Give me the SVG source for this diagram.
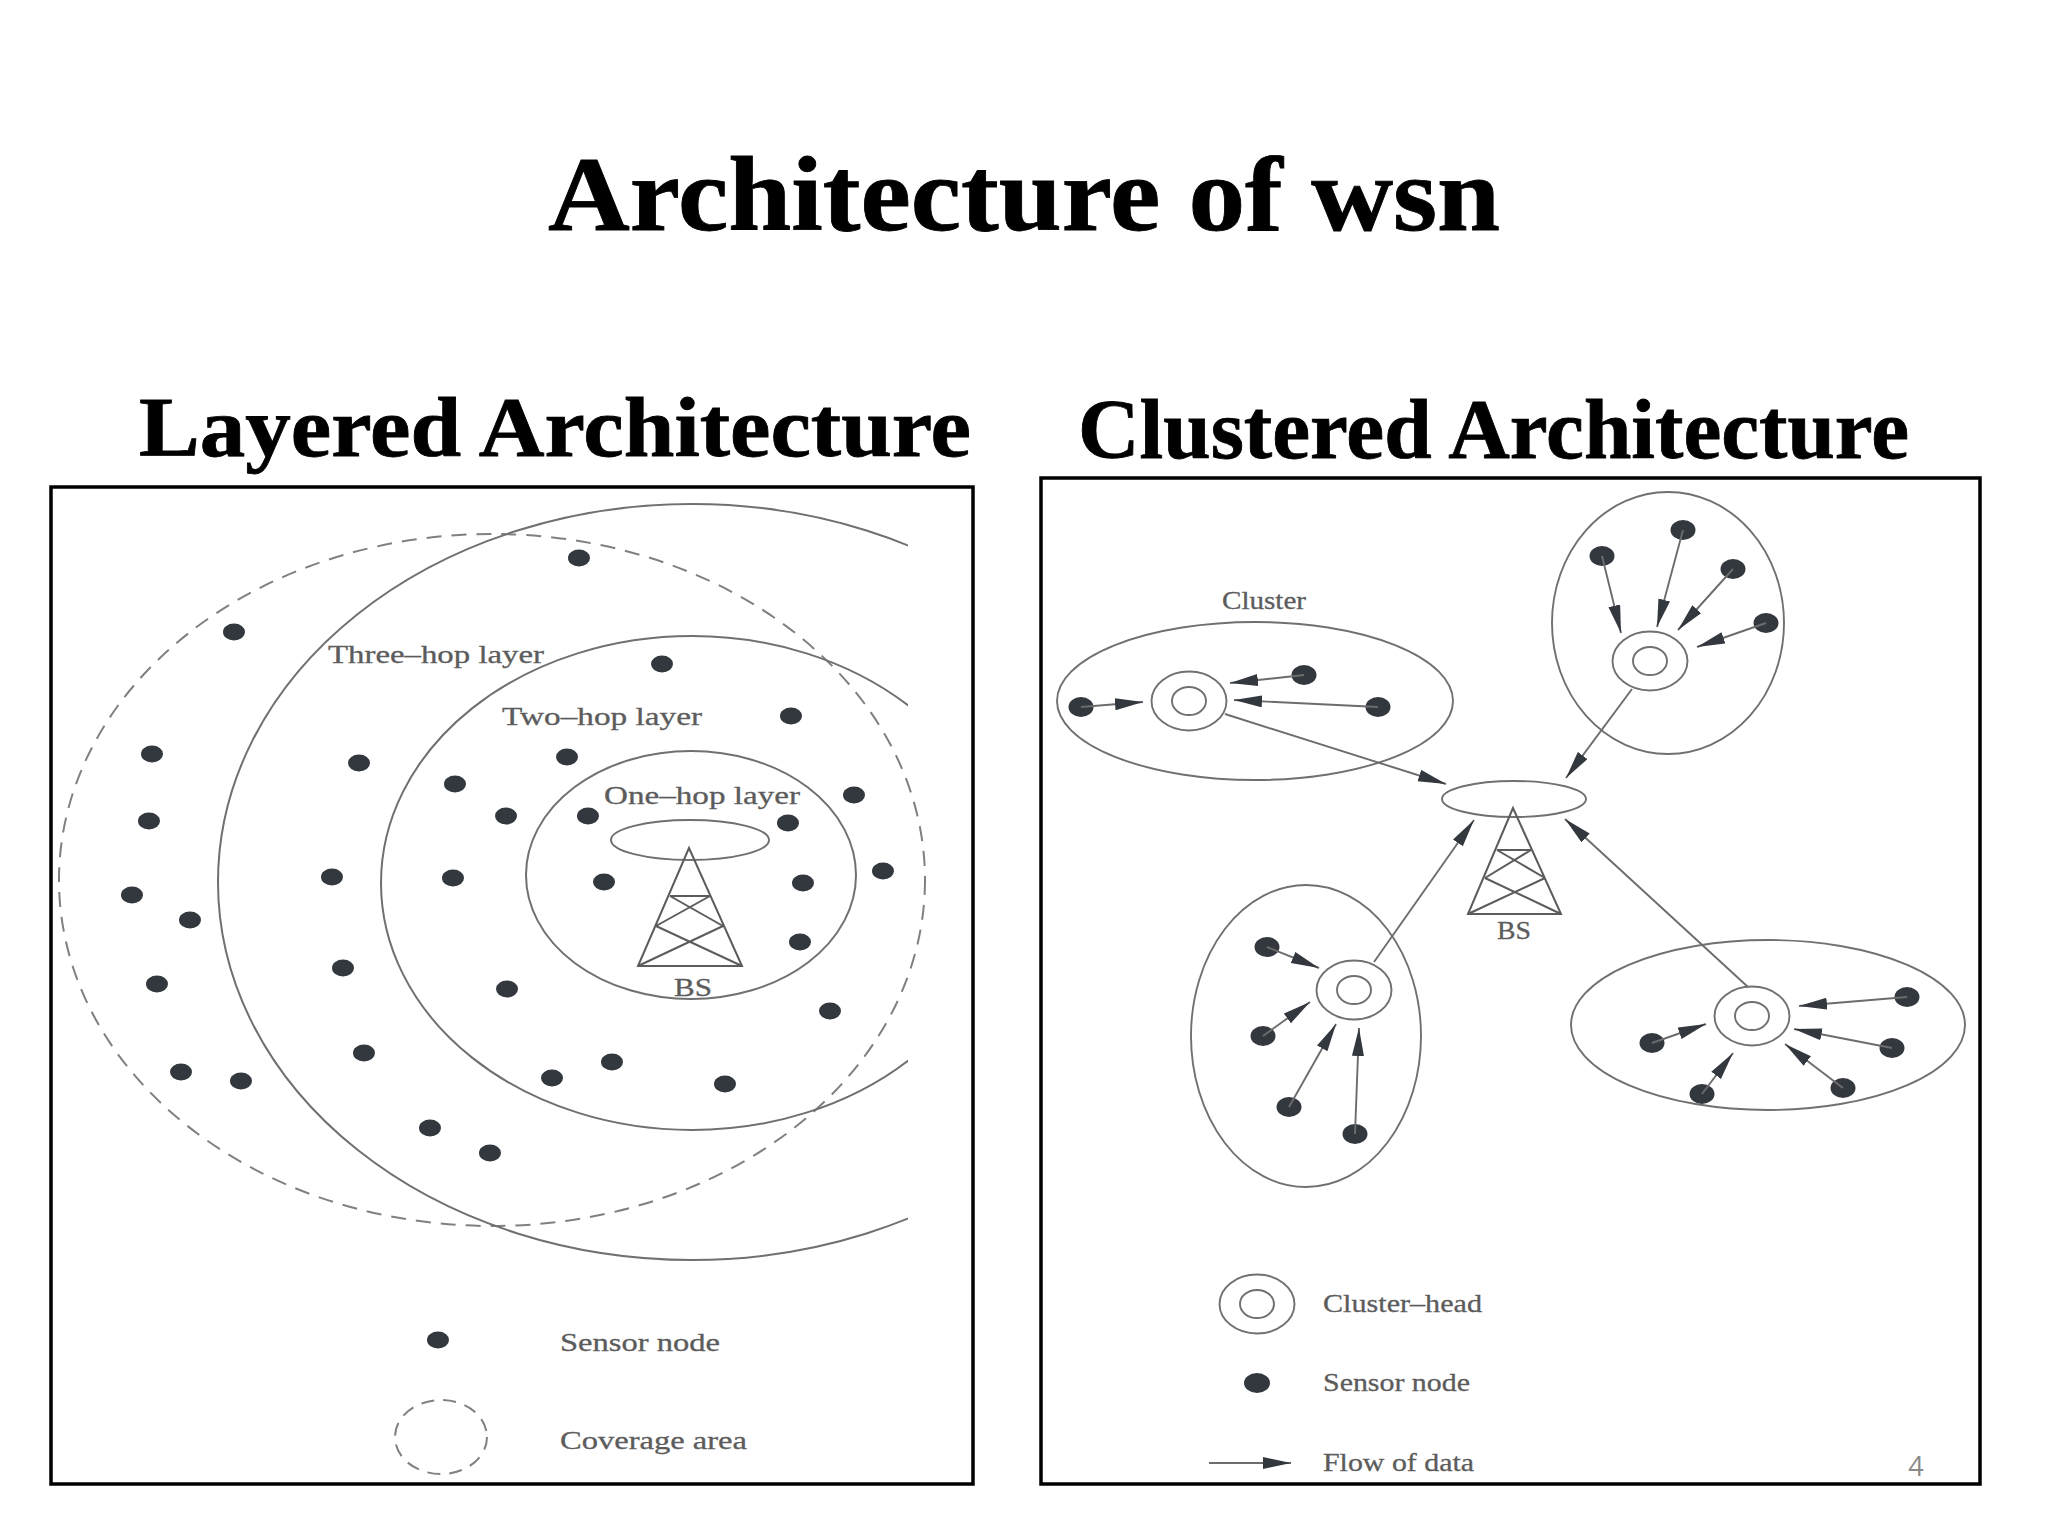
<svg xmlns="http://www.w3.org/2000/svg" width="2048" height="1536" viewBox="0 0 2048 1536">
<style>
.title{font-family:"Liberation Serif","Times New Roman",serif;font-weight:bold;fill:#000;stroke:#000;stroke-width:.8}
.lbl{font-family:"Liberation Serif","Times New Roman",serif;font-size:25px;fill:#5c5c5c;stroke:#5c5c5c;stroke-width:.3}
.frame{fill:none;stroke:#000;stroke-width:3.5}
.ring{fill:none;stroke:#707070;stroke-width:2}
.dash{fill:none;stroke:#808080;stroke-width:2;stroke-dasharray:15 10}
.thin{fill:none;stroke:#707070;stroke-width:1.9}
.dot{fill:#33373e}
.tower{fill:none;stroke:#5c5c5c;stroke-width:2}
.flow{fill:none;stroke:#6c6c6c;stroke-width:1.9;marker-end:url(#ah)}
</style>
<defs>
<marker id="ah" markerUnits="userSpaceOnUse" markerWidth="30" markerHeight="14" refX="28" refY="6" orient="auto"><path d="M0 0L28 6L0 12Z" fill="#33373e"/></marker>
<clipPath id="cl"><rect x="40" y="470" width="868" height="1020"/></clipPath>
<g id="hd"><ellipse rx="37.5" ry="29.5" class="thin"/><ellipse rx="17" ry="14" class="thin"/></g>
</defs>
<rect width="2048" height="1536" fill="#fff"/>
<text class="title" x="548" y="230" font-size="105" textLength="952" lengthAdjust="spacingAndGlyphs">Architecture of wsn</text>
<text class="title" x="139" y="456" font-size="84" textLength="832" lengthAdjust="spacingAndGlyphs">Layered Architecture</text>
<text class="title" x="1078" y="458" font-size="84" textLength="831" lengthAdjust="spacingAndGlyphs">Clustered Architecture</text>

<g id="layered-frame"><rect class="frame" x="51" y="487" width="922" height="997"/></g>
<g id="clustered-frame"><rect class="frame" x="1041" y="478" width="939" height="1006"/></g>

<g id="coverage-area"><ellipse class="dash" cx="492" cy="880" rx="433" ry="346"/></g>
<g id="three-hop-layer"><ellipse class="ring" cx="692" cy="882" rx="474" ry="378" clip-path="url(#cl)"/><text class="lbl" x="328" y="663" textLength="216" lengthAdjust="spacingAndGlyphs">Three–hop layer</text></g>
<g id="two-hop-layer"><ellipse class="ring" cx="692" cy="883" rx="311" ry="247" clip-path="url(#cl)"/><text class="lbl" x="502" y="725" textLength="200" lengthAdjust="spacingAndGlyphs">Two–hop layer</text></g>
<g id="one-hop-layer"><ellipse class="ring" cx="691" cy="875" rx="165" ry="124"/><text class="lbl" x="604" y="804" textLength="196" lengthAdjust="spacingAndGlyphs">One–hop layer</text></g>
<g id="layered-bs"><ellipse class="ring" cx="690" cy="840" rx="79" ry="20"/><path class="tower" d="M689 848L638 966H742ZM670 896H710M670 896L723 926M710 896L656 926M656 926L742 966M723 926L638 966"/><text class="lbl" x="674" y="996" textLength="38" lengthAdjust="spacingAndGlyphs">BS</text></g>
<g id="layered-sensors" class="dot">
<ellipse cx="579" cy="558" rx="11" ry="8.5"/><ellipse cx="234" cy="632" rx="11" ry="8.5"/><ellipse cx="662" cy="664" rx="11" ry="8.5"/><ellipse cx="791" cy="716" rx="11" ry="8.5"/><ellipse cx="152" cy="754" rx="11" ry="8.5"/><ellipse cx="359" cy="763" rx="11" ry="8.5"/><ellipse cx="567" cy="757" rx="11" ry="8.5"/><ellipse cx="455" cy="784" rx="11" ry="8.5"/><ellipse cx="506" cy="816" rx="11" ry="8.5"/><ellipse cx="588" cy="816" rx="11" ry="8.5"/><ellipse cx="788" cy="823" rx="11" ry="8.5"/><ellipse cx="854" cy="795" rx="11" ry="8.5"/><ellipse cx="149" cy="821" rx="11" ry="8.5"/><ellipse cx="332" cy="877" rx="11" ry="8.5"/><ellipse cx="453" cy="878" rx="11" ry="8.5"/><ellipse cx="604" cy="882" rx="11" ry="8.5"/><ellipse cx="803" cy="883" rx="11" ry="8.5"/><ellipse cx="883" cy="871" rx="11" ry="8.5"/><ellipse cx="132" cy="895" rx="11" ry="8.5"/><ellipse cx="190" cy="920" rx="11" ry="8.5"/><ellipse cx="800" cy="942" rx="11" ry="8.5"/><ellipse cx="343" cy="968" rx="11" ry="8.5"/><ellipse cx="157" cy="984" rx="11" ry="8.5"/><ellipse cx="507" cy="989" rx="11" ry="8.5"/><ellipse cx="830" cy="1011" rx="11" ry="8.5"/><ellipse cx="364" cy="1053" rx="11" ry="8.5"/><ellipse cx="181" cy="1072" rx="11" ry="8.5"/><ellipse cx="241" cy="1081" rx="11" ry="8.5"/><ellipse cx="552" cy="1078" rx="11" ry="8.5"/><ellipse cx="612" cy="1062" rx="11" ry="8.5"/><ellipse cx="725" cy="1084" rx="11" ry="8.5"/><ellipse cx="430" cy="1128" rx="11" ry="8.5"/><ellipse cx="490" cy="1153" rx="11" ry="8.5"/>
</g>
<g id="layered-legend-sensor"><ellipse class="dot" cx="438" cy="1340" rx="11" ry="8.5"/><text class="lbl" x="560" y="1351" textLength="160" lengthAdjust="spacingAndGlyphs">Sensor node</text></g>
<g id="layered-legend-coverage"><ellipse class="dash" cx="441" cy="1437" rx="46" ry="37" style="stroke-dasharray:13 9"/><text class="lbl" x="560" y="1449" textLength="187" lengthAdjust="spacingAndGlyphs">Coverage area</text></g>

<g id="cluster-1"><ellipse class="thin" cx="1255" cy="701" rx="198" ry="79"/><use href="#hd" x="1189" y="701"/><text class="lbl" x="1222" y="609" textLength="84" lengthAdjust="spacingAndGlyphs">Cluster</text>
<ellipse class="dot" cx="1081" cy="707" rx="12.5" ry="10"/><ellipse class="dot" cx="1304" cy="675" rx="12.5" ry="10"/><ellipse class="dot" cx="1378" cy="707" rx="12.5" ry="10"/></g>
<g id="cluster-2"><ellipse class="thin" cx="1668" cy="623" rx="116" ry="131"/><use href="#hd" x="1650" y="661"/>
<ellipse class="dot" cx="1602" cy="556" rx="12.5" ry="10"/><ellipse class="dot" cx="1683" cy="530" rx="12.5" ry="10"/><ellipse class="dot" cx="1733" cy="569" rx="12.5" ry="10"/><ellipse class="dot" cx="1766" cy="623" rx="12.5" ry="10"/></g>
<g id="cluster-3"><ellipse class="thin" cx="1306" cy="1036" rx="115" ry="151"/><use href="#hd" x="1354" y="990"/>
<ellipse class="dot" cx="1267" cy="947" rx="12.5" ry="10"/><ellipse class="dot" cx="1263" cy="1036" rx="12.5" ry="10"/><ellipse class="dot" cx="1289" cy="1107" rx="12.5" ry="10"/><ellipse class="dot" cx="1355" cy="1134" rx="12.5" ry="10"/></g>
<g id="cluster-4"><ellipse class="thin" cx="1768" cy="1025" rx="197" ry="85"/><use href="#hd" x="1752" y="1016"/>
<ellipse class="dot" cx="1907" cy="997" rx="12.5" ry="10"/><ellipse class="dot" cx="1892" cy="1048" rx="12.5" ry="10"/><ellipse class="dot" cx="1843" cy="1088" rx="12.5" ry="10"/><ellipse class="dot" cx="1652" cy="1043" rx="12.5" ry="10"/><ellipse class="dot" cx="1702" cy="1094" rx="12.5" ry="10"/></g>
<g id="clustered-bs"><ellipse class="thin" cx="1514" cy="799" rx="72" ry="18"/><path class="tower" d="M1513 808L1468 914H1561ZM1497 850H1531M1497 850L1545 878M1531 850L1485 878M1485 878L1561 914M1545 878L1468 914"/><text class="lbl" x="1497" y="939" textLength="34" lengthAdjust="spacingAndGlyphs">BS</text></g>

<g id="connectors">
<path class="flow" d="M1081 707L1143 702"/><path class="flow" d="M1304 675L1230 683"/><path class="flow" d="M1378 707L1234 700"/><path class="flow" d="M1225 714L1446 784"/>
<path class="flow" d="M1602 556L1621 633"/><path class="flow" d="M1683 530L1657 627"/><path class="flow" d="M1733 569L1678 630"/><path class="flow" d="M1766 623L1697 647"/><path class="flow" d="M1632 689L1566 778"/>
<path class="flow" d="M1267 947L1319 968"/><path class="flow" d="M1263 1036L1310 1002"/><path class="flow" d="M1289 1107L1336 1024"/><path class="flow" d="M1355 1134L1359 1028"/><path class="flow" d="M1374 962L1474 820"/>
<path class="flow" d="M1907 997L1799 1006"/><path class="flow" d="M1892 1048L1794 1029"/><path class="flow" d="M1843 1088L1785 1044"/><path class="flow" d="M1652 1043L1706 1024"/><path class="flow" d="M1702 1094L1733 1053"/><path class="flow" d="M1748 987L1565 819"/>
</g>

<g id="legend-cluster-head"><use href="#hd" x="1257" y="1304"/><text class="lbl" x="1323" y="1312" textLength="159" lengthAdjust="spacingAndGlyphs">Cluster–head</text></g>
<g id="legend-sensor-node"><ellipse class="dot" cx="1257" cy="1383" rx="13" ry="10"/><text class="lbl" x="1323" y="1391" textLength="147" lengthAdjust="spacingAndGlyphs">Sensor node</text></g>
<g id="legend-flow"><path class="flow" d="M1209 1463L1291 1463"/><text class="lbl" x="1323" y="1471" textLength="151" lengthAdjust="spacingAndGlyphs">Flow of data</text></g>
<text x="1916" y="1476" text-anchor="middle" font-family="'Open Sans','Noto Sans',sans-serif" font-size="27" fill="#898989">4</text>
</svg>
